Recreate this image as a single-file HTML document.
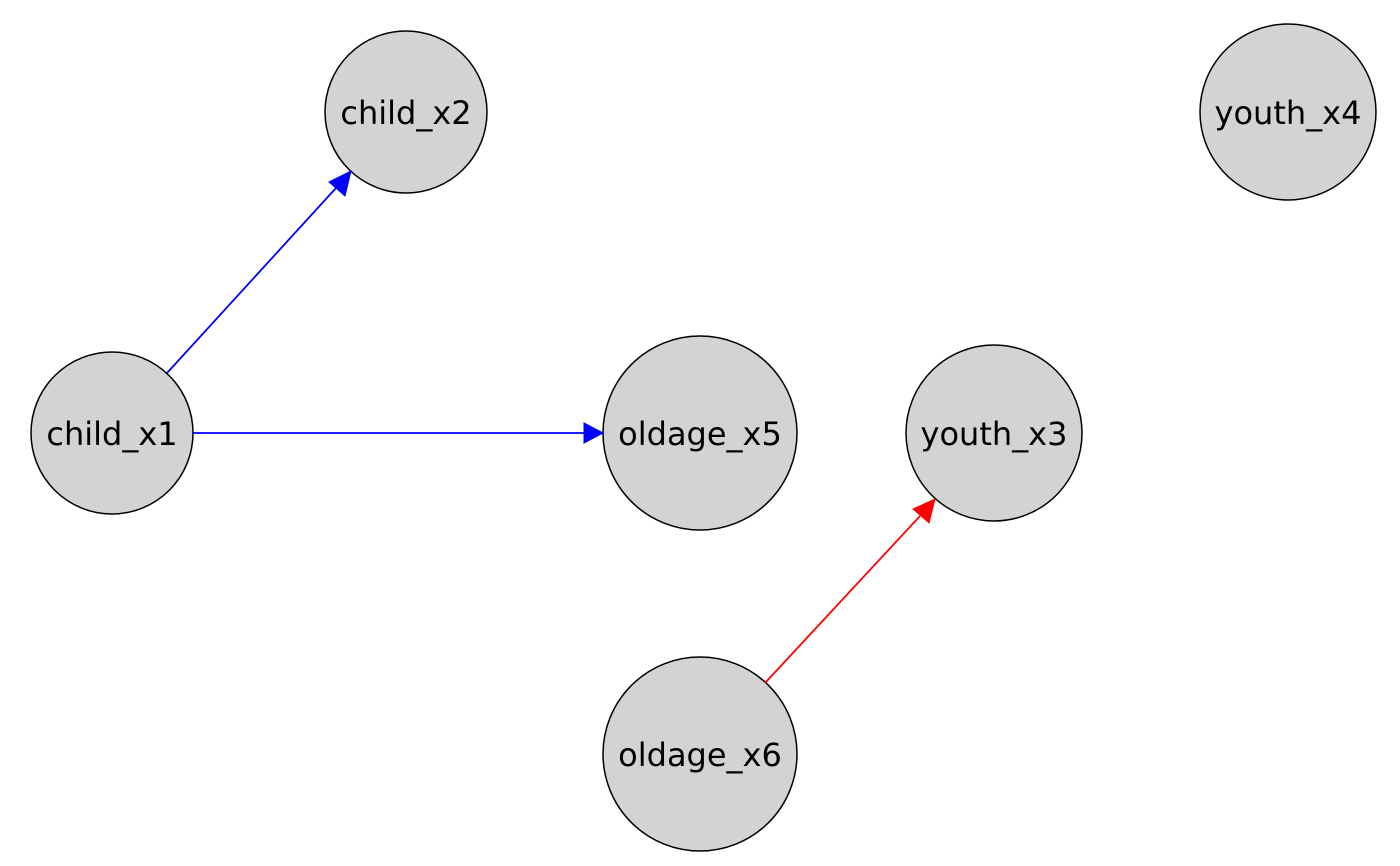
<!DOCTYPE html>
<html><head><style>html,body{margin:0;padding:0;background:#fff;}svg{display:block}</style></head>
<body>
<svg width="1400" height="866" viewBox="0 0 1400 866" xmlns="http://www.w3.org/2000/svg" font-family="'DejaVu Sans', 'Liberation Sans', sans-serif" font-size="32">
<g stroke="#000" stroke-width="1.5" fill="#d3d3d3">
<circle cx="406" cy="112" r="81"/>
<circle cx="1288" cy="112" r="88"/>
<circle cx="112" cy="433" r="81"/>
<circle cx="700" cy="433" r="97"/>
<circle cx="994" cy="433" r="88"/>
<circle cx="700" cy="754" r="97"/>
</g>
<line x1="167" y1="373" x2="336" y2="188" stroke="#00f" stroke-width="1.8"/>
<polygon points="351,171 345,196 329,182" fill="#00f" stroke="#00f"/>
<line x1="193" y1="433" x2="584" y2="433" stroke="#00f" stroke-width="1.8"/>
<polygon points="603,433 584,423 584,443" fill="#00f" stroke="#00f"/>
<line x1="765" y1="683" x2="920" y2="516" stroke="#f00" stroke-width="1.8"/>
<polygon points="935,499 929,523 913,509" fill="#f00" stroke="#f00"/>
<g fill="#000" text-anchor="middle" dominant-baseline="central">
<text x="406" y="113">child_x2</text>
<text x="1288" y="113">youth_x4</text>
<text x="112" y="434">child_x1</text>
<text x="700" y="434">oldage_x5</text>
<text x="994" y="434">youth_x3</text>
<text x="700" y="755">oldage_x6</text>
</g>
</svg>
</body></html>
